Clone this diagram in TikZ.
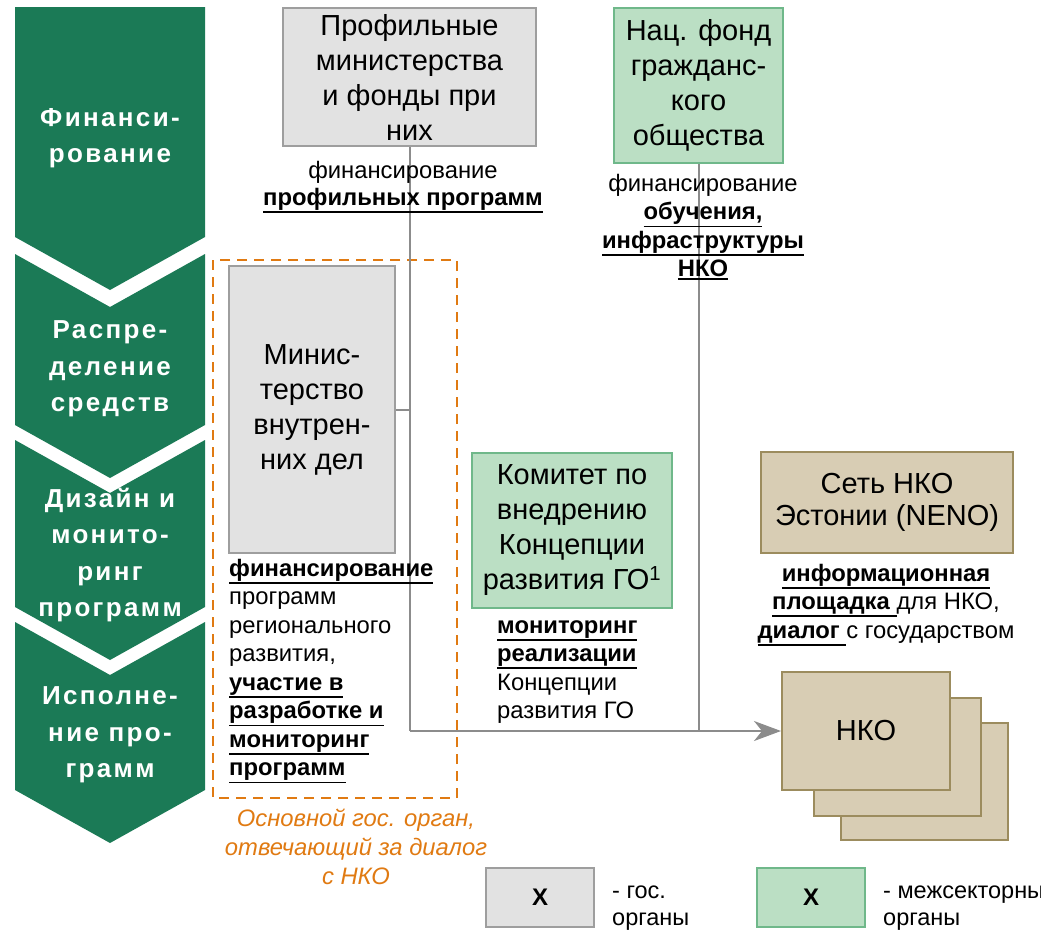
\documentclass[tikz,border=0pt]{standalone}
\usepackage{fontspec}
\setmainfont{Liberation Sans}
\usetikzlibrary{arrows.meta}
\definecolor{chgreen}{HTML}{1B7A56}
\definecolor{govfill}{HTML}{E2E2E2}
\definecolor{govline}{HTML}{9E9E9E}
\definecolor{secfill}{HTML}{BBDFC4}
\definecolor{secline}{HTML}{6FB88A}
\definecolor{ngofill}{HTML}{D8CDB4}
\definecolor{ngoline}{HTML}{9C8C5E}
\definecolor{orng}{HTML}{E07A12}
\definecolor{conn}{HTML}{8C8C8C}
\newcommand{\bu}[1]{\vtop{\hbox{\textbf{#1}}\kern0.8pt\hrule height 1.8pt}}

\begin{document}
\begin{tikzpicture}[x=1pt,y=-1pt,
  chev/.style={fill=chgreen,draw=none},
  chtext/.style={text=white,align=center,inner sep=0pt,
    font=\fontsize{26}{36.5}\selectfont\bfseries\addfontfeatures{LetterSpace=9}},
  gov/.style={fill=govfill,draw=govline,line width=2pt,inner sep=0pt,align=center,
    font=\fontsize{29}{35}\selectfont},
  sec/.style={gov,fill=secfill,draw=secline},
  ngo/.style={gov,fill=ngofill,draw=ngoline},
  lbl/.style={inner sep=0pt,font=\fontsize{23.8}{28.5}\selectfont},
  link/.style={draw=conn,line width=2pt}]
  \useasboundingbox (0,0) rectangle (1041,937);

  \fill[chev] (15,7) -- (205,7) -- (205,237) -- (110,290) -- (15,237) -- cycle;
  \fill[chev] (15,254) -- (110,307) -- (205,254) -- (205,425) -- (110,478) -- (15,425) -- cycle;
  \fill[chev] (15,440) -- (110,493) -- (205,440) -- (205,607) -- (110,660) -- (15,607) -- cycle;
  \fill[chev] (15,622) -- (110,675) -- (205,622) -- (205,790) -- (110,843) -- (15,790) -- cycle;
  \node (ch1) at (110,138) [chtext] {Финанси-\\рование};
  \node (ch2) at (110,369) [chtext] {Распре-\\деление\\средств};
  \node (ch3) at (110,555) [chtext] {Дизайн и\\монито-\\ринг\\программ};
  \node (ch4) at (110,735) [chtext] {Исполне-\\ние про-\\грамм};

  \draw[orng,line width=2pt,dash pattern=on 10pt off 7pt] (213,260) rectangle (457,798);

  \node (prof) at (409.5,77) [gov,minimum width=253pt,minimum height=138pt] {Профильные\\министерства\\и фонды при\\них};
  \node (nfond) at (698.5,85.5) [sec,minimum width=169pt,minimum height=155pt] {Нац. фонд\\гражданс-\\кого\\общества};
  \node (mvd) at (312,409.5) [gov,minimum width=166pt,minimum height=287pt] {Минис-\\терство\\внутрен-\\них дел};
  \node (komitet) at (572,530) [sec,minimum width=200pt,minimum height=155pt] {Комитет по\\внедрению\\Концепции\\развития ГО\textsuperscript{1}};
  \node (neno) at (887,502.5) [ngo,minimum width=252pt,minimum height=101pt,font=\fontsize{29}{32}\selectfont] {Сеть НКО\\Эстонии (NENO)};
  \node (nko3) at (924.5,781.5) [ngo,minimum width=167pt,minimum height=117pt] {};
  \node (nko2) at (897.5,757) [ngo,minimum width=167pt,minimum height=118pt] {};
  \node (nko) at (866,731) [ngo,minimum width=168pt,minimum height=118pt] {НКО};

  \coordinate (bend) at (prof.south |- nko.west);
  \draw[link] (prof.south) -- (bend);
  \draw[link] (nfond.south) -- (nfond.south |- nko.west);
  \draw[link] (mvd.east) -- (mvd.east -| prof.south);
  \draw[link,-{Stealth[length=27pt,width=20pt,inset=8pt]},conn] (bend) -- (nko.west);

  \node (proflbl) at (403,161) [lbl,anchor=north,align=center,font=\fontsize{23.8}{27}\selectfont] {финансирование\\\bu{профильных программ}};
  \node (nfondlbl) at (703,174) [lbl,anchor=north,align=center] {финансирование\\\bu{обучения,}\\\bu{инфраструктуры}\\\bu{НКО}};
  \node (mvdlbl) at (229,559) [lbl,anchor=north west,align=left] {\bu{финансирование}\\программ\\регионального\\развития,\\\bu{участие в}\\\bu{разработке и}\\\bu{мониторинг}\\\bu{программ}};
  \node (komlbl) at (497,620) [lbl,anchor=north west,align=left] {\bu{мониторинг}\\\bu{реализации}\\Концепции\\развития ГО};
  \node (nenolbl) at (886,564) [lbl,anchor=north,align=center] {\bu{информационная}\\\bu{площадка~}для НКО,\\\bu{диалог~}с государством};
  \node (osnlbl) at (356,809) [lbl,anchor=north,align=center,text=orng,font=\fontsize{23.8}{29}\selectfont\itshape] {Основной гос. орган,\\отвечающий за диалог\\с НКО};

  \node (leggov) at (540,897.5) [gov,minimum width=108pt,minimum height=59pt,font=\fontsize{24}{30}\selectfont\bfseries] {X};
  \node (legsec) at (811,897.5) [sec,minimum width=108pt,minimum height=59pt,font=\fontsize{24}{30}\selectfont\bfseries] {X};
  \node (leggovlbl) at (612,886) [lbl,anchor=north west,align=left,font=\fontsize{23.5}{27}\selectfont] {- гос.\\органы};
  \node (legseclbl) at (883,886) [lbl,anchor=north west,align=left,font=\fontsize{23.5}{27}\selectfont] {- межсекторные\\органы};
\end{tikzpicture}
\end{document}
